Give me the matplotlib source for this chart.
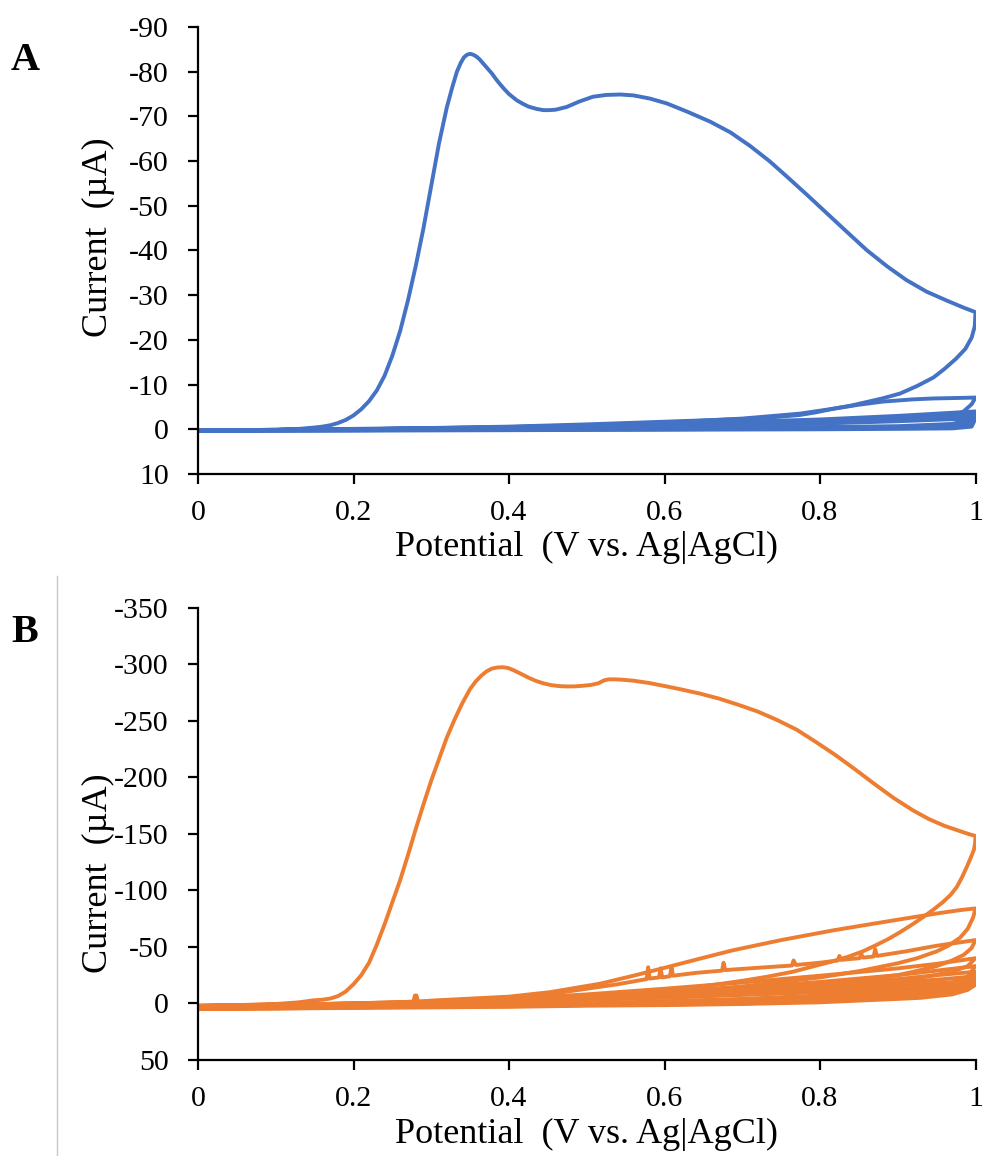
import matplotlib
matplotlib.use("Agg")
import matplotlib.pyplot as plt
from matplotlib.lines import Line2D

plt.rcParams['font.family'] = ['Liberation Serif', 'DejaVu Serif']
plt.rcParams['axes.unicode_minus'] = False

# ---------------- Panel A data (current in uA, negative = oxidation, plotted upward) ----------------
a_c1_fwd_v = [0, 0.05, 0.10, 0.13, 0.15, 0.16, 0.17, 0.18, 0.19, 0.20, 0.21, 0.22, 0.23, 0.24,
              0.25, 0.26, 0.27, 0.28, 0.29, 0.30, 0.31, 0.32, 0.327, 0.333, 0.338, 0.342, 0.346,
              0.350, 0.354, 0.358, 0.362, 0.367, 0.372, 0.378, 0.383, 0.388, 0.394, 0.400, 0.41,
              0.418, 0.425, 0.435, 0.444, 0.452, 0.460, 0.474, 0.490, 0.508, 0.525, 0.543, 0.560,
              0.581, 0.603, 0.630, 0.659, 0.685, 0.710, 0.735, 0.757, 0.783, 0.809, 0.835, 0.860,
              0.886, 0.911, 0.937, 0.963, 0.985, 1.0]
a_c1_fwd_i = [0.3, 0.2, 0.1, -0.1, -0.4, -0.6, -0.9, -1.4, -2.1, -3.1, -4.5, -6.3, -8.7, -12.0,
              -16.5, -22.0, -28.8, -36.5, -45.0, -54.5, -64.0, -72.0, -76.5, -80.0, -82.0, -83.2,
              -83.8, -84.0, -83.8, -83.4, -82.8, -81.8, -80.8, -79.6, -78.4, -77.3, -76.1, -75.0,
              -73.6, -72.8, -72.2, -71.7, -71.4, -71.4, -71.5, -72.1, -73.3, -74.4, -74.8, -74.9,
              -74.7, -74.0, -72.9, -71.0, -68.8, -66.4, -63.4, -60.0, -56.6, -52.5, -48.3, -44.1,
              -40.1, -36.5, -33.4, -30.8, -28.8, -27.2, -26.2]
a_c1_rev_v = [1.0, 0.9995, 0.999, 0.995, 0.987, 0.975, 0.96, 0.946, 0.925, 0.903, 0.88, 0.86,
              0.84, 0.817, 0.795, 0.774, 0.74, 0.70, 0.65, 0.60, 0.50, 0.40, 0.30, 0.20, 0.10, 0.0]
a_c1_rev_i = [-26.2, -24.6, -23.0, -20.5, -18.0, -15.8, -13.5, -11.6, -9.7, -8.0, -6.9, -6.1,
              -5.3, -4.6, -3.8, -3.2, -2.7, -2.3, -2.0, -1.7, -1.1, -0.6, -0.3, -0.1, 0.1, 0.3]

a_c2_fwd_v = [0, 0.2, 0.4, 0.5, 0.6, 0.7, 0.774, 0.817, 0.85, 0.881, 0.92, 0.946, 0.975, 1.0]
a_c2_fwd_i = [0.3, 0.0, -0.5, -0.9, -1.5, -2.4, -3.5, -4.6, -5.5, -6.2, -6.7, -6.9, -7.0, -7.1]
a_c2_rev_v = [1.0, 0.995, 0.984, 0.963, 0.93, 0.9, 0.8, 0.6, 0.4, 0.2, 0.0]
a_c2_rev_i = [-7.1, -5.6, -3.9, -2.9, -2.3, -2.0, -1.4, -0.8, -0.4, 0.0, 0.3]

# later cycles that pile up into the thick band near zero
a_band_fwd_v = [0, 0.2, 0.4, 0.6, 0.8, 0.9, 0.96, 1.0]
a_band_fwd_i = [
    [0.3, 0.0, -0.5, -1.2, -2.2, -3.0, -3.6, -4.0],
    [0.3, 0.0, -0.4, -1.0, -1.9, -2.6, -3.2, -3.6],
    [0.3, 0.0, -0.4, -0.9, -1.7, -2.3, -2.8, -3.2],
    [0.3, 0.0, -0.3, -0.8, -1.5, -2.0, -2.5, -2.8],
    [0.3, 0.0, -0.3, -0.7, -1.3, -1.8, -2.2, -2.4],
]
a_band_rev_v = [1.0, 0.995, 0.97, 0.9, 0.8, 0.6, 0.4, 0.2, 0.0]
a_band_rev_i = [
    [-4.0, -2.2, -1.2, -0.7, -0.5, -0.3, -0.1, 0.1, 0.3],
    [-3.6, -1.8, -0.9, -0.5, -0.4, -0.2, 0.0, 0.1, 0.3],
    [-3.2, -1.4, -0.7, -0.4, -0.3, -0.1, 0.0, 0.2, 0.3],
    [-2.8, -1.0, -0.5, -0.3, -0.2, 0.0, 0.1, 0.2, 0.3],
    [-2.4, -0.6, -0.2, -0.1, 0.0, 0.1, 0.2, 0.3, 0.4],
]

# ---------------- Panel B data ----------------
b_c1_fwd_v = [0, 0.05, 0.10, 0.13, 0.148, 0.16, 0.17, 0.18, 0.19, 0.20, 0.21, 0.22, 0.23, 0.24,
              0.25, 0.26, 0.27, 0.28, 0.29, 0.30, 0.31, 0.32, 0.33, 0.34, 0.35, 0.357, 0.364,
              0.371, 0.378, 0.385, 0.392, 0.399, 0.406, 0.415, 0.425, 0.435, 0.445, 0.455, 0.465,
              0.475, 0.485, 0.495, 0.505, 0.515, 0.522, 0.528, 0.535, 0.545, 0.56, 0.58, 0.60,
              0.62, 0.645, 0.67, 0.695, 0.72, 0.745, 0.77, 0.795, 0.82, 0.845, 0.87, 0.895, 0.92,
              0.94, 0.96, 0.975, 0.99, 1.0]
b_c1_fwd_i = [2.0, 1.5, 0.5, -1.0, -2.7, -3.3, -4.3, -6.5, -10.5, -17.0, -25.0, -36.0, -52.0,
              -70.0, -89.5, -109.0, -131.0, -154.0, -176.0, -197.0, -216.0, -235.0, -251.0,
              -265.5, -278.0, -284.5, -289.5, -293.5, -296.0, -297.0, -297.2, -296.5, -294.5,
              -291.5, -288.0, -285.0, -282.8, -281.3, -280.5, -280.2, -280.3, -280.8, -281.5,
              -283.0, -285.5, -286.5, -286.5, -286.2, -285.3, -283.3, -280.6, -277.8, -274.0,
              -269.5, -264.0, -258.0, -250.5, -242.0, -231.0, -219.5, -207.0, -194.0, -181.5,
              -170.5, -163.0, -157.0, -153.5, -150.0, -148.0]
b_c1_rev_v = [1.0, 0.9995, 0.998, 0.994, 0.989, 0.983, 0.976, 0.968, 0.958, 0.946, 0.933, 0.918,
              0.903, 0.888, 0.872, 0.855, 0.835, 0.815, 0.796, 0.765, 0.731, 0.700, 0.667, 0.635,
              0.603, 0.55, 0.50, 0.45, 0.40, 0.30, 0.20, 0.10, 0.0]
b_c1_rev_i = [-148, -142, -136, -129, -121, -112, -103, -96, -89.5, -83, -76.5, -69.5, -63, -57,
              -51.5, -46, -41, -37, -33.6, -28, -23.5, -20, -16.8, -14, -11.5, -8.5, -6.0, -4.5,
              -3.0, -1.0, 0.0, 1.0, 2.0]

b_c2_fwd_v = [0, 0.1, 0.2, 0.277, 0.279, 0.281, 0.283, 0.3, 0.4, 0.453, 0.517, 0.56, 0.603, 0.645,
              0.688, 0.75, 0.817, 0.86, 0.9, 0.95, 0.98, 1.0]
b_c2_fwd_i = [3, 1.5, 0, -1.5, -7, -7, -1.5, -2.5, -6, -10, -17.4, -24.5, -32, -39.5, -47, -56,
              -64.6, -69.5, -74, -79.5, -82.5, -84]
b_c2_rev_v = [1.0, 0.997, 0.99, 0.98, 0.965, 0.95, 0.925, 0.9, 0.85, 0.8, 0.7, 0.6, 0.5, 0.4, 0.3,
              0.2, 0.1, 0.0]
b_c2_rev_i = [-84, -76, -66, -58, -51, -46, -40, -35.5, -28.5, -23, -15, -10, -6, -3, -1, 0, 1.5, 3]

# third cycle carries the small noise spikes
b_c3_fwd_v = [0, 0.1, 0.2, 0.3, 0.4, 0.45, 0.5, 0.54, 0.577, 0.579, 0.581, 0.593, 0.595, 0.597,
              0.607, 0.609, 0.611, 0.64, 0.674, 0.676, 0.678, 0.72, 0.764, 0.766, 0.769, 0.80,
              0.823, 0.825, 0.827, 0.851, 0.853, 0.855, 0.869, 0.871, 0.873, 0.91, 0.95, 0.98, 1.0]
b_c3_fwd_i = [3, 1.5, 0, -2, -5, -8, -13, -17, -21.5, -32, -22, -23, -31, -23, -24, -32, -24.5,
              -27, -29, -36, -29.5, -31.5, -33.5, -38, -34, -36, -38, -42, -38.5, -40, -44, -40.5,
              -41.5, -48, -42, -46, -51, -54, -56]
b_c3_rev_v = [1.0, 0.995, 0.985, 0.97, 0.95, 0.92, 0.9, 0.8, 0.7, 0.6, 0.5, 0.4, 0.3, 0.2, 0.1, 0.0]
b_c3_rev_i = [-56, -49, -43, -38, -33, -28, -25, -17, -12, -8, -5, -2.5, -0.5, 0.5, 2, 3.5]

b_c4_fwd_v = [0, 0.1, 0.2, 0.3, 0.4, 0.5, 0.6, 0.7, 0.8, 0.9, 0.95, 0.98, 1.0]
b_c4_fwd_i = [3.5, 2, 0.5, -1.5, -4, -8, -13, -18.5, -24.5, -31, -35, -38, -40]
b_c4_rev_v = [1.0, 0.99, 0.97, 0.94, 0.9, 0.8, 0.7, 0.6, 0.5, 0.4, 0.3, 0.2, 0.1, 0.0]
b_c4_rev_i = [-40, -33, -28, -24, -20, -14, -10, -7, -4, -2, -0.5, 1, 2.5, 4]

b_band_fwd_v = [0, 0.1, 0.2, 0.3, 0.4, 0.5, 0.6, 0.7, 0.8, 0.9, 0.95, 1.0]
b_band_fwd_i = [
    [4, 2.5, 1, -1, -3, -6, -10, -14, -19, -25, -29, -33],
    [4, 2.5, 1, -0.5, -2.5, -5, -8.5, -12, -16.5, -21.5, -25, -28],
    [4.5, 3, 1.5, 0, -2, -4, -7, -10, -14, -18.5, -21, -24],
    [4.5, 3, 1.5, 0, -1.5, -3.5, -6, -8.5, -12, -16, -18, -20],
    [5, 3.5, 2, 0.5, -1, -3, -5, -7.5, -10, -13, -15, -16.5],
]
b_band_rev_v = [1.0, 0.99, 0.97, 0.93, 0.9, 0.8, 0.7, 0.6, 0.5, 0.4, 0.3, 0.2, 0.1, 0.0]
b_band_rev_i = [
    [-33, -24, -18, -14, -12, -7, -4, -2, 0, 1, 2, 3, 3.5, 4],
    [-28, -20, -15, -11, -9.5, -5, -2.5, -1, 0.5, 1.5, 2.5, 3, 4, 4.5],
    [-24, -17, -12, -9, -7.5, -3.5, -1.5, 0, 1, 2, 2.5, 3.5, 4, 4.5],
    [-20, -14, -10, -7, -5.5, -2, 0, 1, 1.5, 2.5, 3, 3.5, 4.5, 5],
    [-16.5, -12, -8, -5, -4, -1, 0.5, 1.5, 2, 3, 3.5, 4, 4.5, 5],
]

a_yticks = [-90, -80, -70, -60, -50, -40, -30, -20, -10, 0, 10]
b_yticks = [-350, -300, -250, -200, -150, -100, -50, 0, 50]
xticks = [0, 0.2, 0.4, 0.6, 0.8, 1]
xtick_labels = ["0", "0.2", "0.4", "0.6", "0.8", "1"]

blue = "#4472C4"
orange = "#ED7D31"

# cycles as (forward V, forward I, reverse V, reverse I)
a_cycles = [(a_c1_fwd_v, a_c1_fwd_i, a_c1_rev_v, a_c1_rev_i),
            (a_c2_fwd_v, a_c2_fwd_i, a_c2_rev_v, a_c2_rev_i)]
for fi, ri in zip(a_band_fwd_i, a_band_rev_i):
    a_cycles.append((a_band_fwd_v, fi, a_band_rev_v, ri))

b_cycles = [(b_c1_fwd_v, b_c1_fwd_i, b_c1_rev_v, b_c1_rev_i),
            (b_c2_fwd_v, b_c2_fwd_i, b_c2_rev_v, b_c2_rev_i),
            (b_c3_fwd_v, b_c3_fwd_i, b_c3_rev_v, b_c3_rev_i),
            (b_c4_fwd_v, b_c4_fwd_i, b_c4_rev_v, b_c4_rev_i)]
for fi, ri in zip(b_band_fwd_i, b_band_rev_i):
    b_cycles.append((b_band_fwd_v, fi, b_band_rev_v, ri))


def style_axes(ax, yticks, label_y):
    ax.set_xlim(0, 1)
    ax.set_ylim(yticks[-1], yticks[0])  # inverted current axis
    ax.set_yticks(yticks)
    ax.set_xticks(xticks)
    ax.set_xticklabels(xtick_labels)
    for s in ["top", "right"]:
        ax.spines[s].set_visible(False)
    for s in ["left", "bottom"]:
        ax.spines[s].set_linewidth(1.6)
        ax.spines[s].set_color("black")
    ax.tick_params(axis="both", direction="out", length=7, width=1.6, labelsize=21.5, colors="black")
    ax.tick_params(axis="y", pad=14)
    ax.tick_params(axis="x", pad=12)
    ax.set_xlabel("Potential  (V vs. Ag|AgCl)", fontsize=26, va="center")
    ax.xaxis.set_label_coords(0.5, -0.165)
    ax.set_ylabel("Current  (\u00b5A)", fontsize=26, va="center", ha="center")
    ax.yaxis.set_label_coords(-0.128, label_y)


fig = plt.figure(figsize=(9.85, 11.56), dpi=100)
axA = fig.add_axes([198 / 985, 1 - 474 / 1156, 777.5 / 985, 447 / 1156])
axB = fig.add_axes([198 / 985, 1 - 1060 / 1156, 777.5 / 985, 452.5 / 1156])

for fv, fi, rv, ri in a_cycles:
    axA.plot(list(fv) + list(rv), list(fi) + list(ri), color=blue, lw=2.8, solid_joinstyle="round")
for fv, fi, rv, ri in b_cycles:
    axB.plot(list(fv) + list(rv), list(fi) + list(ri), color=orange, lw=2.8, solid_joinstyle="round")

style_axes(axA, a_yticks, 0.53)
style_axes(axB, b_yticks, 0.413)

fig.text(25 / 985, 1 - 61 / 1156, "A", fontsize=29, fontweight="bold", ha="center", va="center")
fig.text(25 / 985, 1 - 633 / 1156, "B", fontsize=29, fontweight="bold", ha="center", va="center")

# thin grey frame edge on the left of panel B
fig.add_artist(Line2D([57 / 985, 57 / 985], [0, 1 - 576 / 1156], color="#c8c8c8", lw=1,
                      transform=fig.transFigure))

fig.savefig("out.png", dpi=100)
